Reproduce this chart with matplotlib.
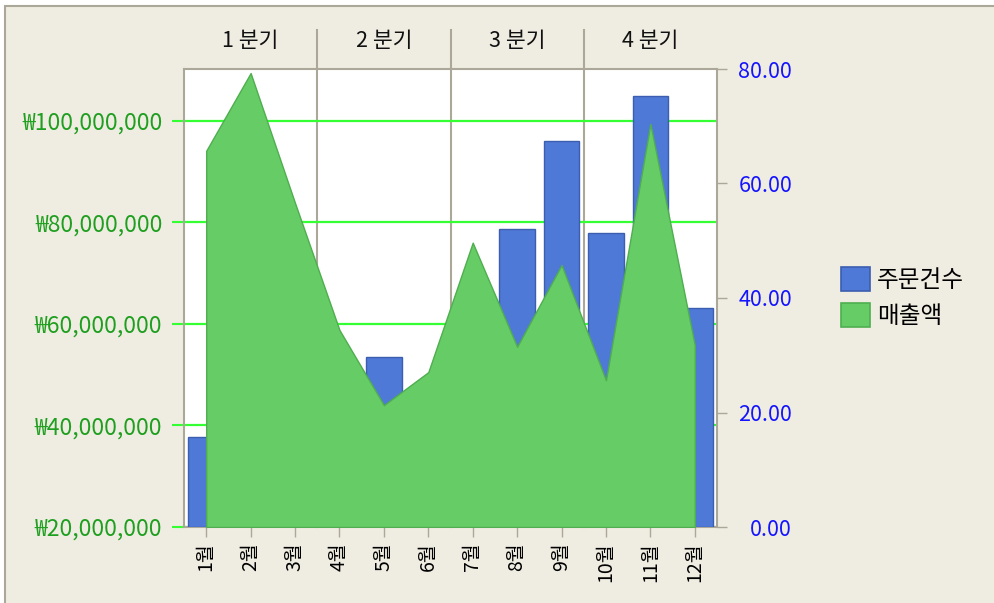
import numpy as np
import matplotlib
matplotlib.use("Agg")
import matplotlib.pyplot as plt
import matplotlib.transforms as mtransforms
from matplotlib.patches import Patch, Rectangle

plt.rcParams["font.family"] = ["Noto Sans CJK KR", "DejaVu Sans"]

# ---- data ----
months = ["1월", "2월", "3월", "4월", "5월", "6월",
          "7월", "8월", "9월", "10월", "11월", "12월"]
orders = [15.7, 30, 25, 22, 29.7, 18, 35, 52.1, 67.5, 51.3, 75.2, 38.2]   # 주문건수 (right axis)
sales = [94.1e6, 109.4e6, 83.8e6, 58.8e6, 44.0e6, 50.5e6,
         76.0e6, 55.5e6, 71.6e6, 48.9e6, 99.4e6, 55.8e6]                    # 매출액 (left axis)
quarters = ["1 분기", "2 분기", "3 분기", "4 분기"]
left_ticks = [20e6, 40e6, 60e6, 80e6, 100e6]
right_ticks = [0, 20, 40, 60, 80]

W, H = 995, 603
BG = "#efece1"
FRAME = "#aca899"
BAR_C, BAR_E = "#4f79d6", "#3c5eb0"
AREA_C, AREA_E = "#66cc66", "#4fae4f"
GRID_C = "#33ff33"
LEFT_TXT = "#1f9f1f"
RIGHT_TXT = "#1414ff"

fig = plt.figure(figsize=(W / 100, H / 100), dpi=100)
fig.patch.set_facecolor("white")
fig.patches.append(Rectangle((5 / W, -0.02), 1.1, (H - 6) / H + 0.02,
                             transform=fig.transFigure, facecolor=BG,
                             edgecolor=FRAME, lw=1.5, zorder=-10))

x0, x1, y0, y1 = 184, 717, 69, 527   # plot box in pixels
rect = [x0 / W, (H - y1) / H, (x1 - x0) / W, (y1 - y0) / H]
ax = fig.add_axes(rect)          # background, left scale + grid
ax_bar = ax.twinx()               # bars, right scale
ax_area = ax.twinx()              # area, left scale (no ticks)

x = np.arange(len(months))
ymin_l, ymax_l = 20e6, 110.2e6

# background axis
ax.set_facecolor("white")
ax.set_xlim(-0.5, 11.5)
ax.set_ylim(ymin_l, ymax_l)
ax.set_yticks(left_ticks)
ax.set_yticklabels([f"₩{int(v):,}" for v in left_ticks], color=LEFT_TXT, fontsize=16.5)
ax.tick_params(axis="y", length=8.6, width=1.5, color=GRID_C, pad=7)
ax.grid(axis="y", color=GRID_C, lw=1.6)
ax.set_axisbelow(True)
ax.set_xticks(x)
ax.set_xticklabels(months, rotation=90, fontsize=14, color="black")
ax.tick_params(axis="x", length=7, width=1, color=FRAME, pad=4)
for sp in ax.spines.values():
    sp.set_color(FRAME); sp.set_linewidth(1.5)

# quarter dividers and headers
trans = mtransforms.blended_transform_factory(ax.transData, ax.transAxes)
top_ext = 1 + (y0 - 30) / (y1 - y0)
for b in [2.5, 5.5, 8.5]:
    ax.plot([b, b], [0, top_ext], transform=trans, color=FRAME, lw=1.5,
            clip_on=False, zorder=0.5)
for i, q in enumerate(quarters):
    ax.text(3 * i + 1, 1 + (y0 - 41) / (y1 - y0), q, transform=trans,
            ha="center", va="center", fontsize=15.5, color="#111111")

# bars
ax_bar.bar(x, orders, width=0.8, color=BAR_C, edgecolor=BAR_E, lw=1, zorder=2)
ax_bar.set_ylim(0, 80)
ax_bar.set_yticks(right_ticks)
ax_bar.set_yticklabels([f"{v:.2f}" for v in right_ticks], color=RIGHT_TXT,
                       fontsize=15.5, ha="right")
ax_bar.tick_params(axis="y", length=7, width=1, color=FRAME, pad=47)
for sp in ax_bar.spines.values():
    sp.set_visible(False)

# area
ax_area.fill_between(x, sales, ymin_l, color=AREA_C, edgecolor=AREA_E, lw=1, zorder=3)
ax_area.set_ylim(ymin_l, ymax_l)
ax_area.set_yticks([])
for sp in ax_area.spines.values():
    sp.set_visible(False)

# legend
handles = [Patch(facecolor=BAR_C, edgecolor=BAR_E, lw=1.2, label="주문건수"),
           Patch(facecolor=AREA_C, edgecolor=AREA_E, lw=1.2, label="매출액")]
fig.legend(handles=handles, loc="upper left",
           bbox_to_anchor=(820 / W, (H - 246) / H), frameon=False,
           fontsize=17, handlelength=1.2, handleheight=1.2,
           handletextpad=0.3, labelspacing=0.45)

fig.savefig("out.png", dpi=100, facecolor=fig.get_facecolor())
